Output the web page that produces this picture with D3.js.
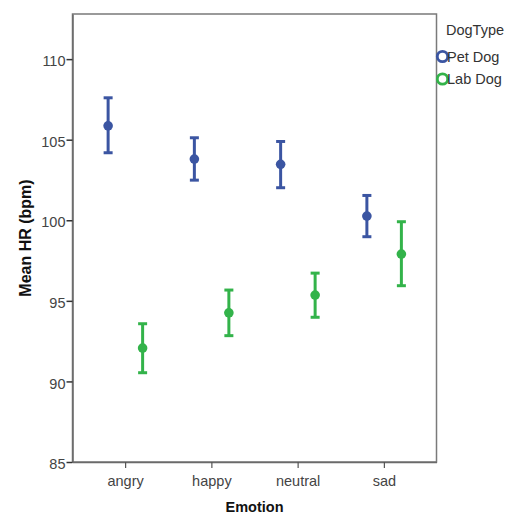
<!DOCTYPE html>
<html>
<head>
<meta charset="utf-8">
<script src="https://cdn.jsdelivr.net/npm/d3@7"></script>
<style>
  body { margin: 0; background: #fff; }
  text { font-family: "Liberation Sans", Arial, sans-serif; }
</style>
</head>
<body>
<svg width="513" height="516"></svg>
<script>
var emotions = ["angry", "happy", "neutral", "sad"];
var dogTypes = ["Pet Dog", "Lab Dog"];
var petMean = [105.86, 103.80, 103.47, 100.26];
var petLow  = [104.19, 102.49, 102.02, 98.98];
var petHigh = [107.60, 105.12, 104.89, 101.54];
var labMean = [92.07, 94.26, 95.36, 97.90];
var labLow  = [90.54, 92.84, 93.98, 95.94];
var labHigh = [93.58, 95.67, 96.72, 99.91];
var yTicks = [85, 90, 95, 100, 105, 110];

var colors = { "Pet Dog": "#3b55a2", "Lab Dog": "#33b34a" };

var series = [
  { name: "Pet Dog", mean: petMean, low: petLow, high: petHigh, off: -17 },
  { name: "Lab Dog", mean: labMean, low: labLow, high: labHigh, off: 17.5 }
];

// plot box (window.top is taken, so use plot* names)
var plotL = 72.5, plotR = 436.5, plotT = 14, plotB = 462;
var svg = d3.select("svg");

var x = d3.scalePoint()
    .domain(emotions)
    .range([plotL, plotR])
    .padding(0.61);

var y = d3.scaleLinear()
    .domain([85, 112.8])
    .range([plotB, plotT]);

// frame
svg.append("rect")
    .attr("x", plotL).attr("y", plotT)
    .attr("width", plotR - plotL).attr("height", plotB - plotT)
    .attr("fill", "none")
    .attr("stroke", "#7a7a7a")
    .attr("stroke-width", 1.5);

// y axis
var yAxis = svg.append("g")
    .attr("transform", "translate(" + plotL + ",0)")
    .call(d3.axisLeft(y).tickValues(yTicks).tickSize(6).tickSizeOuter(0));
yAxis.select(".domain").attr("stroke", "#6a6a6a").attr("stroke-width", 1.5);
yAxis.selectAll(".tick line").attr("stroke", "#333").attr("stroke-width", 1.5);
yAxis.selectAll(".tick text")
    .attr("x", -7)
    .attr("y", 2)
    .attr("fill", "#444")
    .style("font-size", "14.5px")
    .style("font-family", "Liberation Sans, Arial, sans-serif");

// x axis
var xAxis = svg.append("g")
    .attr("transform", "translate(0," + plotB + ")")
    .call(d3.axisBottom(x).tickSize(6).tickSizeOuter(0));
xAxis.select(".domain").attr("stroke", "#6a6a6a").attr("stroke-width", 1.5);
xAxis.selectAll(".tick line").attr("stroke", "#555").attr("stroke-width", 1.2);
xAxis.selectAll(".tick text")
    .attr("y", 14)
    .attr("fill", "#444")
    .style("font-size", "14.5px")
    .style("font-family", "Liberation Sans, Arial, sans-serif");

// axis titles
svg.append("text")
    .attr("x", (plotL + plotR) / 2)
    .attr("y", 512)
    .attr("text-anchor", "middle")
    .style("font-size", "14.5px")
    .style("font-weight", "bold")
    .attr("fill", "#111")
    .text("Emotion");

svg.append("text")
    .attr("transform", "translate(31," + (plotT + plotB) / 2 + ") rotate(-90)")
    .attr("text-anchor", "middle")
    .style("font-size", "16px")
    .style("font-weight", "bold")
    .attr("fill", "#111")
    .text("Mean HR (bpm)");

// error bars
series.forEach(function (s) {
  var g = svg.append("g");
  var col = colors[s.name];
  emotions.forEach(function (e, i) {
    var cx = x(e) + s.off;
    g.append("line")
        .attr("x1", cx).attr("x2", cx)
        .attr("y1", y(s.low[i])).attr("y2", y(s.high[i]))
        .attr("stroke", col).attr("stroke-width", 3);
    [s.low[i], s.high[i]].forEach(function (v) {
      g.append("line")
          .attr("x1", cx - 4.5).attr("x2", cx + 4.5)
          .attr("y1", y(v)).attr("y2", y(v))
          .attr("stroke", col).attr("stroke-width", 3);
    });
    g.append("circle")
        .attr("cx", cx).attr("cy", y(s.mean[i]))
        .attr("r", 4.8)
        .attr("fill", col);
  });
});

// legend
svg.append("text")
    .attr("x", 446).attr("y", 35)
    .style("font-size", "14.5px")
    .attr("fill", "#333")
    .text("DogType");

var leg = svg.selectAll(".leg")
    .data(dogTypes)
    .enter().append("g")
    .attr("transform", function (d, i) { return "translate(442.5," + (56.5 + i * 22.5) + ")"; });
leg.append("circle")
    .attr("r", 5.2)
    .attr("fill", "none")
    .attr("stroke", function (d) { return colors[d]; })
    .attr("stroke-width", 2.8);
leg.append("text")
    .attr("x", 4.5).attr("y", 5.2)
    .style("font-size", "14.5px")
    .attr("fill", "#333")
    .text(function (d) { return d; });
</script>
</body>
</html>
